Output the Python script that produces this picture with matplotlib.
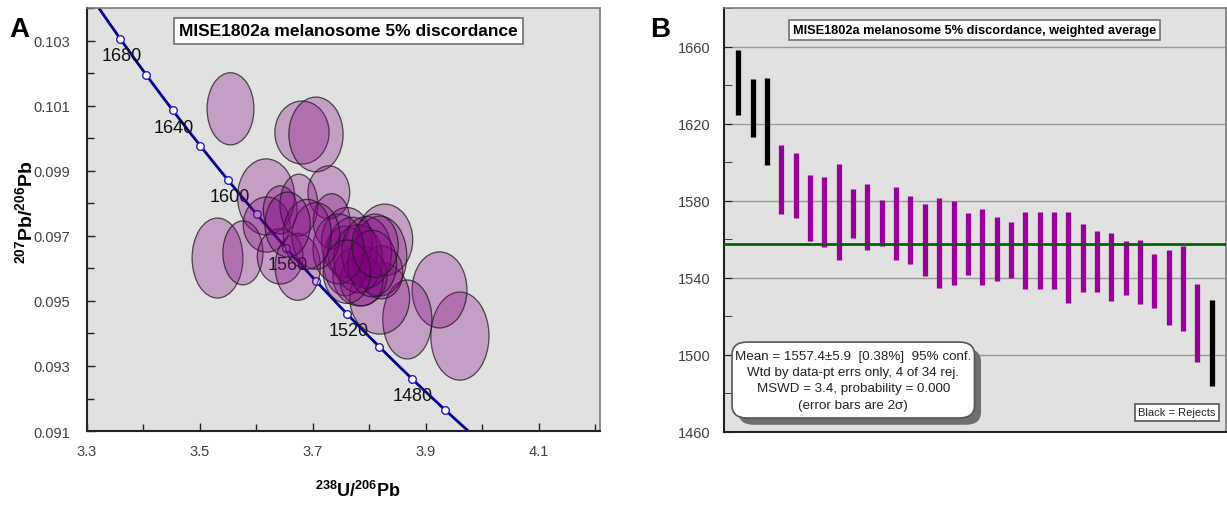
import numpy as np
import matplotlib
matplotlib.use('Agg')
import matplotlib.pyplot as plt
from matplotlib.patches import Ellipse, FancyBboxPatch
from matplotlib.ticker import FixedLocator

plt.rcParams['font.family'] = ['Liberation Sans', 'DejaVu Sans']
plt.rcParams['mathtext.fontset'] = 'custom'
plt.rcParams['mathtext.rm'] = 'Liberation Sans'
plt.rcParams['mathtext.bf'] = 'Liberation Sans:bold'

# ---------------- data: panel A (Tera-Wasserburg ellipses) ----------------
ell_x = [3.554, 3.6805, 3.7053, 3.617, 3.531, 3.576, 3.960, 3.924, 3.867, 3.818,
         3.728, 3.618, 3.642, 3.673, 3.642, 3.675, 3.733, 3.827, 3.818, 3.821,
         3.757, 3.783, 3.786, 3.760, 3.770, 3.780, 3.795, 3.805, 3.745, 3.705,
         3.760, 3.810, 3.690, 3.655]
ell_y = [0.10091, 0.10018, 0.10012, 0.09820, 0.09632, 0.09648, 0.09392, 0.09534, 0.09443, 0.09509,
         0.09834, 0.09735, 0.09637, 0.09605, 0.09780, 0.09795, 0.09745, 0.09688, 0.09638, 0.09588,
         0.09623, 0.09577, 0.09562, 0.09680, 0.09655, 0.09630, 0.09650, 0.09615, 0.09660, 0.09700,
         0.09590, 0.09670, 0.09705, 0.09735]
ell_w = [0.083, 0.096, 0.096, 0.101, 0.090, 0.071, 0.103, 0.097, 0.087, 0.106,
         0.074, 0.083, 0.081, 0.080, 0.060, 0.067, 0.065, 0.099, 0.096, 0.076,
         0.078, 0.096, 0.076, 0.090, 0.088, 0.086, 0.088, 0.086, 0.090, 0.085,
         0.084, 0.082, 0.085, 0.080]
ell_h = [0.00222, 0.00194, 0.00230, 0.00234, 0.00246, 0.00197, 0.00271, 0.00234, 0.00243, 0.00222,
         0.00163, 0.00170, 0.00170, 0.00206, 0.00148, 0.00190, 0.00170, 0.00220, 0.00246, 0.00163,
         0.00215, 0.00185, 0.00154, 0.00215, 0.00205, 0.00210, 0.00220, 0.00205, 0.00215, 0.00205,
         0.00195, 0.00195, 0.00215, 0.00200]

# concordia age markers (Ma)
marker_ages = [1440, 1460, 1480, 1500, 1520, 1540, 1560, 1580, 1600, 1620, 1640, 1660, 1680, 1700]
label_ages = [1480, 1520, 1560, 1600, 1640, 1680]
LAMBDA238 = 1.55125e-4   # per Ma
LAMBDA235 = 9.8485e-4    # per Ma
U_RATIO = 137.88

xticksA = [3.3, 3.5, 3.7, 3.9, 4.1]
xminorA = [3.4, 3.6, 3.8, 4.0, 4.2]
yticksA = [0.091, 0.093, 0.095, 0.097, 0.099, 0.101, 0.103]
yminorA = [0.092, 0.094, 0.096, 0.098, 0.100, 0.102, 0.104]

# ---------------- data: panel B (weighted average) ----------------
wa_age = [1641.2, 1628.3, 1620.9, 1591.1, 1587.8, 1576.3, 1574.2, 1573.9, 1573.5, 1571.4,
          1568.5, 1568.0, 1564.8, 1559.6, 1558.1, 1558.2, 1557.7, 1556.1, 1554.8, 1554.4,
          1554.2, 1554.2, 1554.2, 1550.5, 1550.1, 1548.4, 1545.7, 1545.2, 1543.1, 1538.4,
          1534.9, 1534.6, 1516.7, 1506.4]
wa_err = [16.9, 15.0, 22.6, 17.8, 17.0, 17.2, 18.2, 24.9, 12.7, 17.2,
          12.0, 19.0, 17.7, 18.7, 23.4, 21.8, 16.0, 19.7, 16.5, 14.6,
          19.9, 19.9, 19.9, 23.7, 17.7, 16.0, 17.8, 14.0, 16.6, 14.0,
          19.5, 22.0, 20.2, 22.3]
wa_reject = [True, True, True] + [False] * 30 + [True]
mean_age = 1557.4
yticksB = [1460, 1500, 1540, 1580, 1620, 1660]
yminorB = [1480, 1520, 1560, 1600, 1640, 1680]

stats_text = ("Mean = 1557.4\u00b15.9  [0.38%]  95% conf.\n"
              "Wtd by data-pt errs only, 4 of 34 rej.\n"
              "MSWD = 3.4, probability = 0.000\n"
              "(error bars are 2\u03c3)")

BG = '#e1e1e1'
TICKC = '#404040'


def concordia(t):
    t = np.asarray(t, float)
    e238 = np.exp(LAMBDA238 * t) - 1
    e235 = np.exp(LAMBDA235 * t) - 1
    return 1.0 / e238, e235 / e238 / U_RATIO


def style_axes(ax):
    ax.set_facecolor(BG)
    for s in ['left', 'bottom']:
        ax.spines[s].set_color('#222222')
        ax.spines[s].set_linewidth(1.5)
    for s in ['top', 'right']:
        ax.spines[s].set_color('#7a7a7a')
        ax.spines[s].set_linewidth(1.2)


fig = plt.figure(figsize=(12.27, 5.06), dpi=100)

# ================= Panel A =================
axA = fig.add_axes([0.0709, 0.1462, 0.4181, 0.8360])
style_axes(axA)
axA.set_xlim(3.3, 4.208)
axA.set_ylim(0.091, 0.10401)
axA.xaxis.set_major_locator(FixedLocator(xticksA))
axA.xaxis.set_minor_locator(FixedLocator(xminorA))
axA.yaxis.set_major_locator(FixedLocator(yticksA))
axA.yaxis.set_minor_locator(FixedLocator(yminorA))
axA.xaxis.set_major_formatter(plt.FuncFormatter(lambda v, p: f'{v:.1f}'))
axA.yaxis.set_major_formatter(plt.FuncFormatter(lambda v, p: f'{v:.3f}'))
axA.tick_params(which='both', direction='in', colors='#222222', labelcolor=TICKC,
                labelsize=10.5, top=False, right=False)
axA.tick_params(which='major', length=6, width=1)
axA.tick_params(which='minor', length=5, width=1)
axA.tick_params(axis='y', pad=12)
axA.tick_params(axis='x', pad=9)

tcurve = np.linspace(1400, 1750, 400)
cx, cy = concordia(tcurve)
axA.plot(cx, cy, color='#000090', lw=2, zorder=1)
mx, my = concordia(marker_ages)
axA.plot(mx, my, 'o', ms=5.5, mfc='white', mec='#2020c0', mew=1.0, zorder=1.2)
lx, ly = concordia(label_ages)
for a, x, y in zip(label_ages, lx, ly):
    axA.annotate(str(a), (x, y), xytext=(1, -12), textcoords='offset points',
                 ha='center', va='center', fontsize=13, color='#111111', zorder=1.1)

for x, y, w, h in zip(ell_x, ell_y, ell_w, ell_h):
    e = Ellipse((x, y), w, h, facecolor=(0.5, 0.0, 0.5, 0.29),
                edgecolor=(0.1, 0.1, 0.1, 0.75), lw=0.9, zorder=2)
    axA.add_patch(e)

axA.text(0.51, 0.946, 'MISE1802a melanosome 5% discordance', transform=axA.transAxes,
         ha='center', va='center', fontsize=12.5, fontweight='bold', color='black', zorder=5,
         bbox=dict(boxstyle='square,pad=0.3', fc='white', ec='#707070', lw=1.2))

axA.set_ylabel(r'$\mathbf{^{207}Pb/^{206}Pb}$', fontsize=14)
axA.yaxis.set_label_coords(-0.100, 0.52)
axA.set_xlabel(r'$\mathbf{^{238}U/^{206}Pb}$', fontsize=13, va='center')
axA.xaxis.set_label_coords(0.528, -0.14)

# ================= Panel B =================
axB = fig.add_axes([0.5901, 0.1443, 0.4091, 0.8379])
style_axes(axB)
axB.set_xlim(0, len(wa_age) + 1)
axB.set_ylim(1460, 1680)
axB.yaxis.set_major_locator(FixedLocator(yticksB))
axB.yaxis.set_minor_locator(FixedLocator(yminorB))
axB.set_xticks([])
axB.tick_params(axis='y', which='both', direction='in', colors='#222222',
                labelcolor=TICKC, labelsize=10.5, pad=10)
axB.tick_params(axis='y', which='major', length=6)
axB.tick_params(axis='y', which='minor', length=6)
axB.grid(axis='y', which='major', color='#999999', lw=1, zorder=0)
axB.set_axisbelow(True)

idx = np.arange(1, len(wa_age) + 1)
age = np.array(wa_age)
err = np.array(wa_err)
rej = np.array(wa_reject)
axB.vlines(idx[~rej], (age - err)[~rej], (age + err)[~rej], color='#990099', lw=3.8, zorder=3)
axB.vlines(idx[rej], (age - err)[rej], (age + err)[rej], color='black', lw=3.8, zorder=3)
axB.axhline(mean_age, color='#006400', lw=2, zorder=4)

axB.text(0.499, 0.948, 'MISE1802a melanosome 5% discordance, weighted average',
         transform=axB.transAxes, ha='center', va='center', fontsize=9.2,
         fontweight='bold', color='black', zorder=6,
         bbox=dict(boxstyle='square,pad=0.3', fc='white', ec='#707070', lw=1.2))

# stats box with shadow
bx0, by0, bw, bh = 0.0159, 0.033, 0.483, 0.179
shadow = FancyBboxPatch((bx0 + 0.013, by0 - 0.016), bw, bh,
                        boxstyle='round,pad=0,rounding_size=0.03',
                        transform=axB.transAxes, fc='#6e6e6e', ec='none', zorder=6)
box = FancyBboxPatch((bx0, by0), bw, bh, boxstyle='round,pad=0,rounding_size=0.03',
                     transform=axB.transAxes, fc='white', ec='#555555', lw=1.2, zorder=7)
axB.add_patch(shadow)
axB.add_patch(box)
axB.text(bx0 + bw / 2, by0 + bh / 2, stats_text, transform=axB.transAxes,
         ha='center', va='center', fontsize=9.6, linespacing=1.48, color='#222222', zorder=8)

axB.text(0.9026, 0.046, 'Black = Rejects', transform=axB.transAxes, ha='center',
         va='center', fontsize=8, color='#222222', zorder=8,
         bbox=dict(boxstyle='square,pad=0.3', fc='white', ec='#555555', lw=1.2))

fig.text(0.016, 0.94, 'A', fontsize=20, fontweight='bold', ha='center', va='center')
fig.text(0.538, 0.94, 'B', fontsize=20, fontweight='bold', ha='center', va='center')

fig.savefig('out.png', dpi=100, facecolor='white')
